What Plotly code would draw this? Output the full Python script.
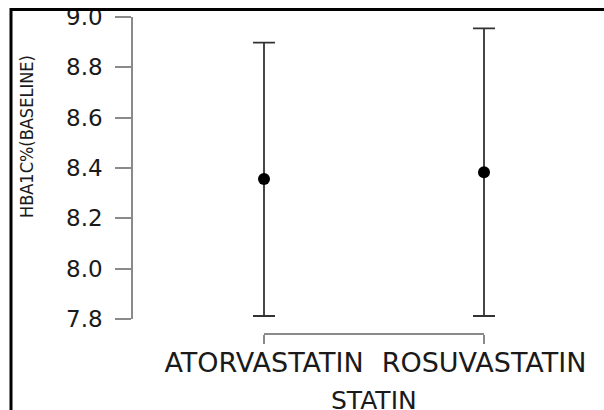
import plotly.graph_objects as go

# Data
statins = ["ATORVASTATIN", "ROSUVASTATIN"]
hba1c_mean = [8.356, 8.383]
hba1c_upper = [8.898, 8.955]
hba1c_lower = [7.812, 7.812]

y_ticks = [7.8, 8.0, 8.2, 8.4, 8.6, 8.8, 9.0]
y_range = [7.8, 9.0]

W, H = 604, 410
PAD = 0.15  # category padding of the data axis

err_plus = [u - m for u, m in zip(hba1c_upper, hba1c_mean)]
err_minus = [m - l for m, l in zip(hba1c_mean, hba1c_lower)]

fig = go.Figure()
fig.add_trace(go.Scatter(
    x=statins,
    y=hba1c_mean,
    mode="markers",
    marker=dict(color="black", size=12, symbol="circle"),
    error_y=dict(type="data", symmetric=False, array=err_plus, arrayminus=err_minus,
                 color="#333333", thickness=1.8, width=11),
    cliponaxis=False,
    showlegend=False,
    hoverinfo="x+y",
))
# invisible helper trace so the visible category axis (x2) is built
fig.add_trace(go.Scatter(
    x=statins, y=hba1c_mean, xaxis="x2", mode="markers",
    marker=dict(opacity=0), showlegend=False, hoverinfo="skip",
))

axis_gray = "#8a8a8a"
text_col = "#1a1a1a"
px_per_cat = 484 - 264
fig.update_layout(
    width=W, height=H, autosize=False,
    margin=dict(l=0, r=0, t=0, b=0),
    paper_bgcolor="white", plot_bgcolor="rgba(0,0,0,0)",
    xaxis=dict(
        type="category",
        domain=[(264 - PAD * px_per_cat) / W, (484 + PAD * px_per_cat) / W],
        range=[-PAD, 1 + PAD],
        visible=False, automargin=False,
    ),
    xaxis2=dict(
        type="category",
        domain=[264 / W, 484 / W],
        range=[0, 1],
        anchor="free",
        position=(H - 334) / H,
        showline=True, linecolor=axis_gray, linewidth=1.5,
        ticks="outside", ticklen=9, tickwidth=1.5, tickcolor=axis_gray,
        showgrid=False, zeroline=False, tickangle=0, automargin=False,
        tickfont=dict(family="DejaVu Sans", size=27, color=text_col),
        ticklabelstandoff=-4,
    ),
    yaxis=dict(
        domain=[(H - 319) / H, (H - 17) / H],
        range=y_range,
        anchor="free",
        position=132 / W,
        tickvals=y_ticks,
        ticktext=[f"{v:.1f}" for v in y_ticks],
        showline=True, linecolor=axis_gray, linewidth=1.5,
        ticks="outside", ticklen=16, tickwidth=1.5, tickcolor=axis_gray,
        showgrid=False, zeroline=False, automargin=False,
        tickfont=dict(family="DejaVu Sans", size=23, color=text_col),
        ticklabelstandoff=8,
    ),
    annotations=[
        dict(
            text="HBA1C%(BASELINE)",
            xref="paper", yref="paper",
            x=27 / W, y=(H - 137) / H,
            xanchor="center", yanchor="middle",
            textangle=-90, showarrow=False,
            font=dict(family="DejaVu Sans Condensed, DejaVu Sans, sans-serif", size=18, color=text_col),
        ),
        dict(
            text="STATIN",
            xref="paper", yref="paper",
            x=374 / W, y=(H - 384) / H,
            xanchor="center", yanchor="top",
            showarrow=False,
            font=dict(family="DejaVu Sans", size=25, color=text_col),
        ),
    ],
    shapes=[dict(
        type="rect", xref="paper", yref="paper",
        x0=11 / W, x1=1.2, y0=-0.2, y1=(H - 9.5) / H,
        line=dict(color="black", width=3), fillcolor="rgba(0,0,0,0)",
        layer="above",
    )],
)

fig.write_html("out.html", config={"displayModeBar": False},
               post_script="document.body.style.margin='0';")
